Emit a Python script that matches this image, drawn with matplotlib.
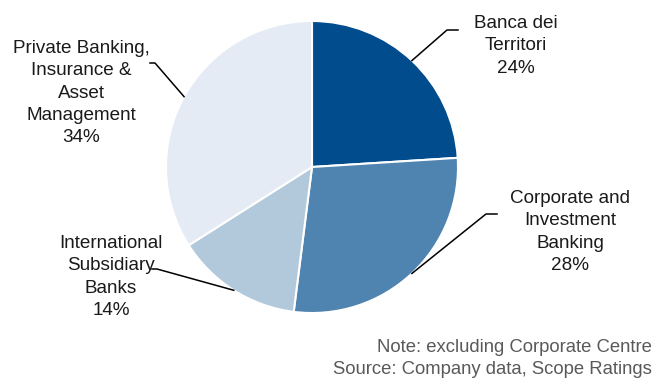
import numpy as np
import matplotlib.pyplot as plt

plt.rcParams['font.family'] = ['Liberation Sans', 'DejaVu Sans']

segments = ['Banca dei\nTerritori', 'Corporate and\nInvestment\nBanking',
            'International\nSubsidiary\nBanks', 'Private Banking,\nInsurance &\nAsset\nManagement']
shares = [24, 28, 14, 34]
colours = ['#004C8C', '#4F83B0', '#B2C9DC', '#E4EBF4']

# layout (pixel coords, y measured from bottom)
H = 378
cx, cy, r = 312, H - 167, 146
elbows = [(447, H - 30), (486, H - 214), (157, H - 269), (155, H - 63)]
ends = [(458, H - 30), (497, H - 214), (152, H - 269), (150, H - 63)]
text_pos = [(516, H - 46), (570, H - 232), (111, H - 277), (81, H - 93)]

fig = plt.figure(figsize=(6.54, 3.78), dpi=100)
ax = fig.add_axes([0, 0, 1, 1])
wedges, _ = ax.pie(shares, colors=colours, startangle=90, counterclock=False,
                   center=(cx, cy), radius=r,
                   wedgeprops=dict(edgecolor='white', linewidth=1.5))
ax.set_xlim(0, 654)
ax.set_ylim(0, H)
ax.set_aspect('equal')
ax.axis('off')

for w, lab, val, el, en, tp in zip(wedges, segments, shares, elbows, ends, text_pos):
    mid = np.deg2rad((w.theta1 + w.theta2) / 2)
    sx, sy = cx + r * np.cos(mid), cy + r * np.sin(mid)
    ax.plot([sx, el[0], en[0]], [sy, el[1], en[1]], color='black', lw=1.1)
    ax.text(tp[0], tp[1], f'{lab}\n{val}%', ha='center', va='center',
            fontsize=13.6, linespacing=1.42, color='#1a1a1a')

ax.text(652, H - 348, 'Note: excluding Corporate Centre', ha='right', va='center',
        fontsize=13.3, color='#595959')
ax.text(652, H - 369, 'Source: Company data, Scope Ratings', ha='right', va='center',
        fontsize=13.3, color='#595959')

fig.savefig('out.png', dpi=100)
